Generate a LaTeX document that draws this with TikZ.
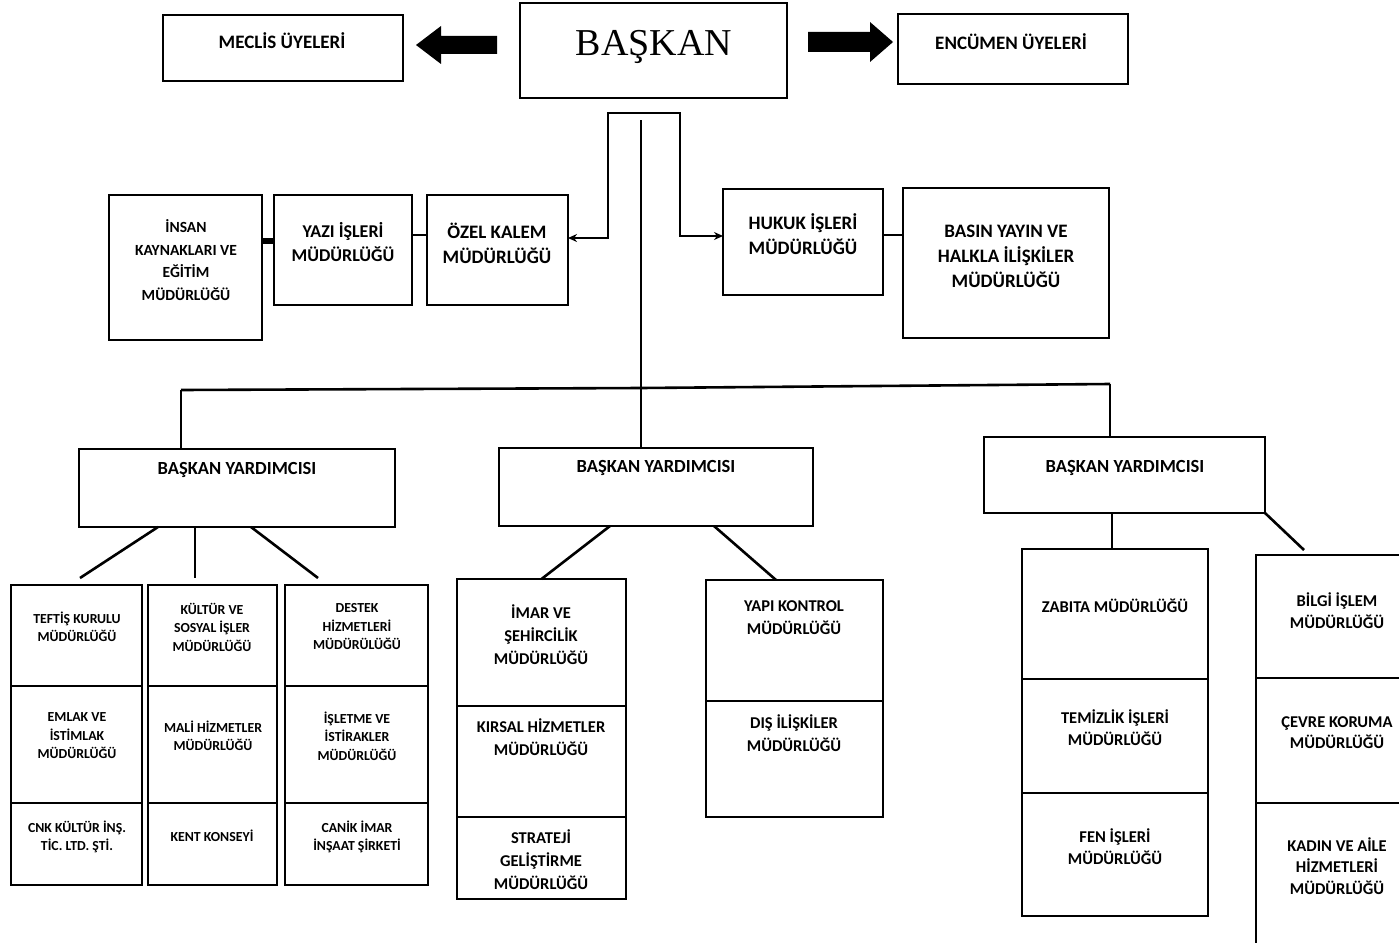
\documentclass[tikz,border=0pt]{standalone}
\usepackage{fontspec}
\setmainfont{Carlito}
\newfontfamily\serifbig{Liberation Serif}
\usetikzlibrary{arrows.meta}
\newcommand\myfs[2]{\fontsize{#1}{#2}\selectfont\bfseries}
\newcommand\bx[5]{\node[box, minimum width={(#4-#2)*1pt}, minimum height={(#5-#3)*1pt}] (#1) at ({(#2+#4)/2},{(#3+#5)/2}) {};}
\tikzset{
  box/.style={draw=black, line width=2.6pt, inner sep=0pt, outer sep=0pt, fill=none},
  txt/.style={align=center, inner sep=0pt, text=black},
  fA/.style={font=\myfs{19}{25}},
  fY/.style={font=\myfs{18}{24}},
  fI/.style={font=\myfs{15.5}{22.6}},
  fB/.style={font=\myfs{18.5}{23}},
  fS/.style={font=\myfs{13.8}{18.5}},
  fM/.style={font=\myfs{16.5}{23}},
  fR/.style={font=\myfs{16.5}{21.5}},
  conn/.style={draw=black, line width=2.6pt},
  blockarrow/.style={fill=black},
  tip/.style={-{Stealth[length=9pt,width=8pt]}}
}
\begin{document}
\begin{tikzpicture}[x=1pt,y=-1pt]
\useasboundingbox (0,0) rectangle (1399,942);
\clip (0,0) rectangle (1399,942);
\fill[white] (0,0) rectangle (1399,942);

% top row
\bx{meclis}{163}{15}{403}{81}
\bx{baskan}{520}{3}{787}{98}
\bx{encumen}{898}{14}{1128}{84}
\node[txt, fA] (tmeclis) at (282,41) {MECLİS ÜYELERİ};
\node[txt, font=\serifbig\fontsize{38}{40}\selectfont] (tbaskan) at (654,47) {BAŞKAN};
\node[txt, fA] (tencumen) at (1011,42) {ENCÜMEN ÜYELERİ};

% block arrows
\fill[blockarrow] (497,36) -- (441,36) -- (441,26) -- (416,45) -- (441,64) -- (441,54) -- (497,54) -- cycle;
\fill[blockarrow] (808,32) -- (870,32) -- (870,22) -- (893,42) -- (870,62) -- (870,52) -- (808,52) -- cycle;

% second row
\bx{insan}{109}{195}{262}{340}
\bx{yazi}{274}{195}{412}{305}
\bx{ozel}{427}{195}{568}{305}
\bx{hukuk}{723}{189}{883}{295}
\bx{basin}{903}{188}{1109}{338}
\node[txt, fI] (tinsan) at (186,260) {İNSAN\\KAYNAKLARI VE\\EĞİTİM\\MÜDÜRLÜĞÜ};
\node[txt, fY] (tyazi) at (343,242) {YAZI İŞLERİ\\MÜDÜRLÜĞÜ};
\node[txt, fA] (tozel) at (497,243.5) {ÖZEL KALEM\\MÜDÜRLÜĞÜ};
\node[txt, fA] (thukuk) at (803,234.5) {HUKUK İŞLERİ\\MÜDÜRLÜĞÜ};
\node[txt, fA] (tbasin) at (1006,256) {BASIN YAYIN VE\\HALKLA İLİŞKİLER\\MÜDÜRLÜĞÜ};

\draw[conn, line width=6pt] ([yshift=26.5pt]insan.east) -- ([yshift=9pt]yazi.west);
\draw[conn] ([yshift=15pt]yazi.east) -- ([yshift=15pt]ozel.west);
\draw[conn] ([yshift=7pt]hukuk.east) -- ([yshift=28pt]basin.west);

% bracket from president
\coordinate (brL) at (608,113);
\coordinate (brR) at (680,113);
\coordinate (mainTop) at (641,120);
\draw[conn, tip] (brR) -- (brL) |- ([yshift=12pt]ozel.east);
\draw[conn, tip] (brL) -- (brR) |- ([yshift=6pt]hukuk.west);

% vice presidents
\bx{by1}{79}{449}{395}{527}
\bx{by2}{499}{448}{813}{526}
\bx{by3}{984}{437}{1265}{513}
\node[txt, fB] (tby1) at (237,470) {BAŞKAN YARDIMCISI};
\node[txt, fB] (tby2) at (656,468) {BAŞKAN YARDIMCISI};
\node[txt, fB] (tby3) at (1125,468) {BAŞKAN YARDIMCISI};

\coordinate (busL) at (181,390);
\coordinate (busM) at (641,388);
\coordinate (busR) at (1110,384);
\draw[conn] (mainTop) -- (busM);
\draw[conn] (busL) -- (busM) -- (busR);
\draw[conn] (busL) -- (busL |- by1.north);
\draw[conn] (busM) -- (busM |- by2.north);
\draw[conn] (busR) -- (busR |- by3.north);

% left group
\bx{teftis}{11}{585}{142}{686}
\bx{emlak}{11}{686}{142}{803}
\bx{cnk}{11}{803}{142}{885}
\bx{kultur}{148}{585}{277}{686}
\bx{mali}{148}{686}{277}{803}
\bx{kent}{148}{803}{277}{885}
\bx{destek}{285}{585}{428}{686}
\bx{isletme}{285}{686}{428}{803}
\bx{canik}{285}{803}{428}{885}
\node[txt, fS] (tteftis) at (77,627) {TEFTİŞ KURULU\\MÜDÜRLÜĞÜ};
\node[txt, fS] (temlak) at (77,736) {EMLAK VE\\İSTİMLAK\\MÜDÜRLÜĞÜ};
\node[txt, fS] (tcnk) at (77,837) {CNK KÜLTÜR İNŞ.\\TİC. LTD. ŞTİ.};
\node[txt, fS] (tkultur) at (212,627) {KÜLTÜR VE\\SOSYAL İŞLER\\MÜDÜRLÜĞÜ};
\node[txt, fS] (tmali) at (213,736) {MALİ HİZMETLER\\MÜDÜRLÜĞÜ};
\node[txt, fS] (tkent) at (212,836) {KENT KONSEYİ};
\node[txt, fS] (tdestek) at (357,627) {DESTEK\\HİZMETLERİ\\MÜDÜRÜLÜĞÜ};
\node[txt, fS] (tisletme) at (357,736) {İŞLETME VE\\İSTİRAKLER\\MÜDÜRLÜĞÜ};
\node[txt, fS] (tcanik) at (357,837) {CANİK İMAR\\İNŞAAT ŞİRKETİ};

\draw[conn] ([xshift=-79pt]by1.south) -- ([xshift=3.5pt,yshift=7pt]teftis.north);
\draw[conn] ([xshift=-42pt]by1.south) -- ([xshift=-17.5pt,yshift=7pt]kultur.north);
\draw[conn] ([xshift=14pt]by1.south) -- ([xshift=-38.5pt,yshift=7pt]destek.north);

% middle group
\bx{imar}{457}{579}{626}{706}
\bx{kirsal}{457}{706}{626}{817}
\bx{strateji}{457}{817}{626}{899}
\bx{yapi}{706}{580}{883}{701}
\bx{dis}{706}{701}{883}{817}
\node[txt, fM] (timar) at (541,635) {İMAR VE\\ŞEHİRCİLİK\\MÜDÜRLÜĞÜ};
\node[txt, fM] (tkirsal) at (541,737.5) {KIRSAL HİZMETLER\\MÜDÜRLÜĞÜ};
\node[txt, fM] (tstrateji) at (541,860) {STRATEJİ\\GELİŞTİRME\\MÜDÜRLÜĞÜ};
\node[txt, fM] (tyapi) at (794,617.5) {YAPI KONTROL\\MÜDÜRLÜĞÜ};
\node[txt, fM] (tdis) at (794,733.5) {DIŞ İLİŞKİLER\\MÜDÜRLÜĞÜ};

\draw[conn] ([xshift=-46pt]by2.south) -- (imar.north);
\draw[conn] ([xshift=58pt]by2.south) -- ([xshift=-18.5pt]yapi.north);

% right group
\bx{zabita}{1022}{549}{1208}{679}
\bx{temizlik}{1022}{679}{1208}{793}
\bx{fen}{1022}{793}{1208}{916}
\bx{bilgi}{1256}{555}{1420}{678}
\bx{cevre}{1256}{678}{1420}{803}
\bx{kadin}{1256}{803}{1420}{946}
\node[txt, fR] (tzabita) at (1115,606) {ZABITA MÜDÜRLÜĞÜ};
\node[txt, fR] (ttemizlik) at (1115,727.5) {TEMİZLİK İŞLERİ\\MÜDÜRLÜĞÜ};
\node[txt, fR] (tfen) at (1115,846.5) {FEN İŞLERİ\\MÜDÜRLÜĞÜ};
\node[txt, fR] (tbilgi) at (1337,610.5) {BİLGİ İŞLEM\\MÜDÜRLÜĞÜ};
\node[txt, fR] (tcevre) at (1337,732.5) {ÇEVRE KORUMA\\MÜDÜRLÜĞÜ};
\node[txt, fR] (tkadin) at (1337,866) {KADIN VE AİLE\\HİZMETLERİ\\MÜDÜRLÜĞÜ};

\draw[conn] ([xshift=-12.5pt]by3.south) -- ([xshift=-3pt]zabita.north);
\draw[conn] (by3.south east) -- ([xshift=-34pt,yshift=5pt]bilgi.north);
\end{tikzpicture}
\end{document}
